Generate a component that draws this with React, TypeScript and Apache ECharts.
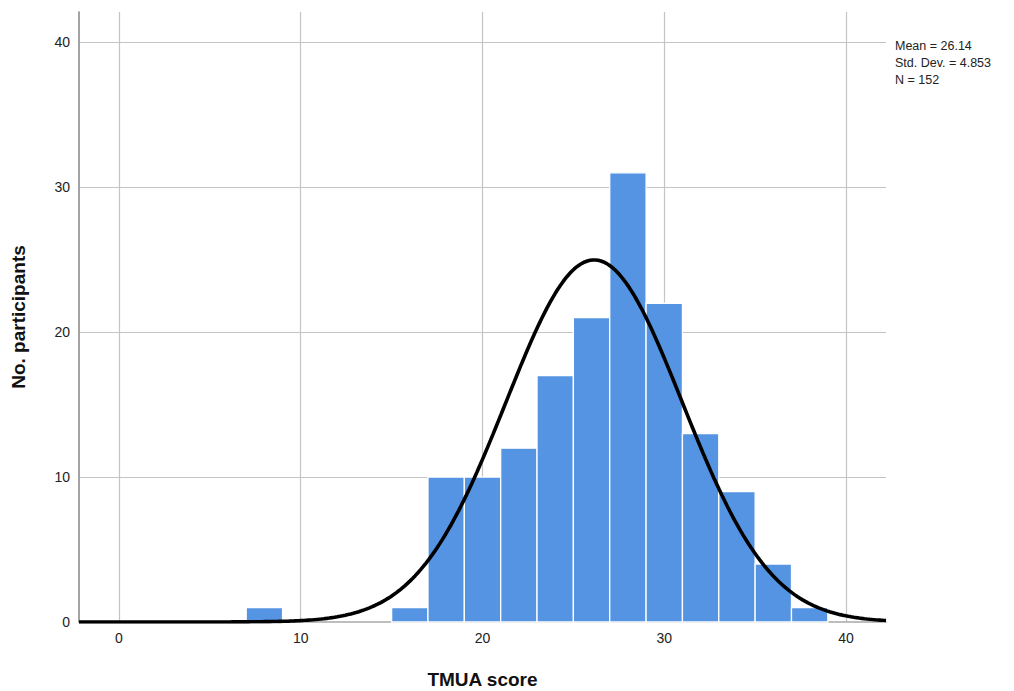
import React, { useEffect, useRef } from "react";
import * as echarts from "echarts";

const binStarts = [7, 15, 17, 19, 21, 23, 25, 27, 29, 31, 33, 35, 37];
const binWidth = 2;
const counts = [1, 1, 10, 10, 12, 17, 21, 31, 22, 13, 9, 4, 1];
const statMean = 26.14;
const statSD = 4.853;
const statN = 152;
const xTicks = [0, 10, 20, 30, 40];
const yTicks = [0, 10, 20, 30, 40];
const statLines = ["Mean = 26.14", "Std. Dev. = 4.853", "N = 152"];

const X_MIN = -2.2;
const X_MAX = 42.2;
const Y_MAX = 42.1;

function normalCurve(): [number, number][] {
  const pts: [number, number][] = [];
  const steps = 300;
  for (let i = 0; i <= steps; i++) {
    const x = X_MIN + ((X_MAX - X_MIN) * i) / steps;
    const z = (x - statMean) / statSD;
    const y = (statN * binWidth) / (statSD * Math.sqrt(2 * Math.PI)) * Math.exp(-0.5 * z * z);
    pts.push([x, y]);
  }
  return pts;
}

export default function App() {
  const ref = useRef<HTMLDivElement>(null);
  useEffect(() => {
    document.body.style.margin = "0";
    const chart = echarts.init(ref.current!, undefined, { renderer: "svg" });
    const barData = binStarts.map((s, i) => [s, s + binWidth, counts[i]]);
    const font = "Arial, 'Liberation Sans', sans-serif";
    chart.setOption({
      animation: false,
      grid: { left: 79, top: 12, right: 128, bottom: 69, containLabel: false, outerBoundsMode: "none" },
      xAxis: {
        type: "value",
        min: X_MIN,
        max: X_MAX,
        name: "TMUA score",
        nameLocation: "middle",
        nameGap: 48,
        nameTextStyle: { fontSize: 19, fontWeight: "bold", color: "#111", fontFamily: font },
        axisLine: { show: true, onZero: false, lineStyle: { color: "#a8a8a8", width: 1.5 } },
        axisTick: { show: false, customValues: xTicks },
        axisLabel: {
          fontSize: 14,
          color: "#222",
          fontFamily: font,
          margin: 9,
          customValues: xTicks,
        },
        splitLine: { show: true, lineStyle: { color: "#c4c4c4", width: 1.2 } },
      },
      yAxis: {
        type: "value",
        min: 0,
        max: Y_MAX,
        interval: 10,
        name: "No. participants",
        nameLocation: "middle",
        nameGap: 51,
        nameTextStyle: { fontSize: 19, fontWeight: "bold", color: "#111", fontFamily: font },
        axisLine: { show: true, onZero: false, lineStyle: { color: "#8c8c8c", width: 1.6 } },
        axisTick: { show: false },
        axisLabel: {
          fontSize: 14,
          color: "#222",
          fontFamily: font,
          margin: 9,
          formatter: (v: number) => (yTicks.includes(v) ? String(v) : ""),
          showMaxLabel: false,
        },
        splitLine: { show: true, showMinLine: false, showMaxLine: false, lineStyle: { color: "#c4c4c4", width: 1.2 } },
      },
      graphic: statLines.map((t, i) => ({
        type: "text",
        left: 895,
        top: 39 + i * 17,
        style: { text: t, fontSize: 12.5, fill: "#222", fontFamily: font },
      })),
      series: [
        {
          type: "custom",
          data: barData,
          encode: { x: [0, 1], y: 2 },
          renderItem: (params: any, api: any) => {
            const p0 = api.coord([api.value(0), 0]);
            const p1 = api.coord([api.value(1), api.value(2)]);
            return {
              type: "rect",
              shape: { x: p0[0], y: p1[1], width: p1[0] - p0[0], height: p0[1] - p1[1] },
              style: { fill: "#5594e2", stroke: "#ffffff", lineWidth: 1.3 },
            };
          },
          z: 2,
        },
        {
          type: "line",
          data: normalCurve(),
          showSymbol: false,
          symbol: "none",
          lineStyle: { color: "#000", width: 3.6 },
          z: 3,
        },
      ],
    });
    return () => chart.dispose();
  }, []);
  return <div ref={ref} style={{ width: 1014, height: 691 }} />;
}
